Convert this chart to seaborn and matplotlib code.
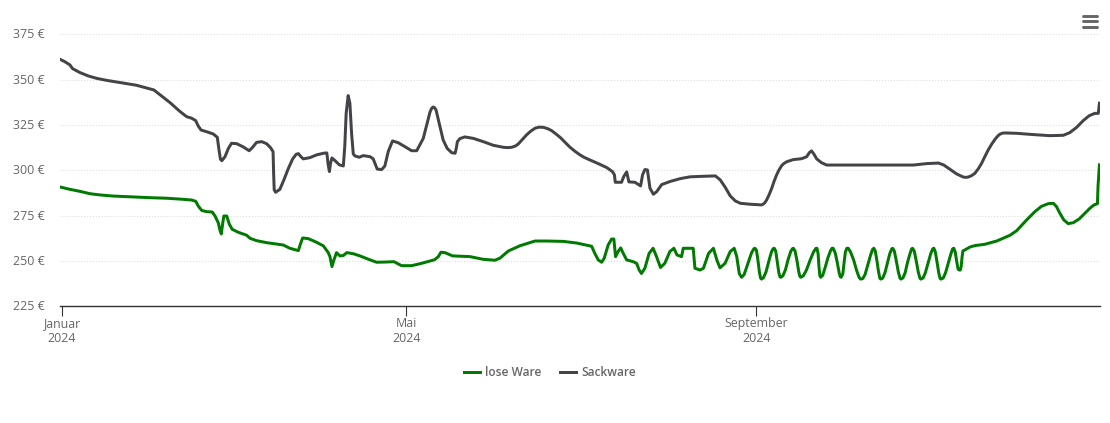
import matplotlib
matplotlib.use("Agg")
import matplotlib.pyplot as plt
from matplotlib.lines import Line2D
from matplotlib.transforms import ScaledTranslation
import pandas as pd
import seaborn as sns

# days counted from 1 Jan 2024, values in euro
sack_days = [-0.7, 1, 2.8, 3.7, 6.3, 9.3, 12.2, 15.7, 19.2, 22.7, 26.2, 29.8, 32.3, 34.4, 38, 41.5, 43.8, 45.6, 47, 47.9,
             48.9, 50.8, 53.2, 54.6, 55.2, 55.7, 56.2, 57.3, 58.5, 59.6, 61.4, 63.7, 65.8, 66.9, 68.4, 70.2, 71.9, 73.3, 74.2, 74.4,
             74.6, 75.1, 76.6, 78, 79.6, 81.1, 82.3, 83.1, 84, 84.8, 87.2, 89.5, 91.9, 93.1, 93.5, 94, 94.4, 94.9, 96, 97.5,
             98.9, 99.4, 99.9, 100.6, 101.2, 101.8, 102.4, 103, 104.5, 105.9, 108.3, 109.4, 110.1, 110.8, 112.4, 113.5, 114.7, 116.2, 118.2, 120.6,
             122.9, 124.7, 125.8, 127, 128.2, 129.4, 130, 130.5, 131, 131.5, 132.6, 134, 135.4, 137, 138.2, 138.6, 139, 139.9, 141.6, 144.6, 148.1, 151.6,
             155.1, 156.6, 158.1, 159.4, 160.4, 161.8, 163.3, 164.8, 166.3, 167.7, 169.2, 170.7, 172.1, 173.6, 175.1, 176.9, 178.6, 180.4, 182.1, 183.5, 185,
             188.5, 191.5, 193.5, 194.2, 194.5, 196.7, 197.5, 198.5, 199.3,
             201.4, 203.4, 204.1, 204.9, 205.8, 206.7, 207.9, 209.1, 210.8, 213.7, 217.3, 220.8, 225.5, 229.7, 231.4, 233.2, 234.9, 236.7, 238.5, 241.8,
             246, 246.9, 247.7, 248.6, 249.5, 250.3, 251.2, 252.1, 253, 253.9, 254.9, 257.1, 260, 261.8, 262.7, 263.5, 264.3, 265.3, 267, 268.8, 273.5, 285.2, 299.3, 304, 308.1,
             310, 312.1, 314.5, 316.8, 317.7, 318.6, 319.7, 320.9, 322.1, 323.3, 324.4, 325.6, 326.8, 328, 328.9, 329.7, 330.6, 331.5,
             335.6, 341.4, 347.3, 352, 354.3, 356.7, 359, 361.1, 363.1,
             364.3, 364.7]
sack_prices = [361.2, 359.9, 358.1, 356.1, 353.9, 352, 350.7, 349.6, 348.7, 347.8, 346.9, 345.4, 344.3, 341.7, 337.3, 332.4, 329.6, 328.7, 327.4, 324.4,
               322.2, 321.3, 320, 318.2, 311.2, 306.1, 305.3, 307.5, 312.1, 314.9, 314.7, 312.9, 310.8, 312.5, 315.4, 315.8, 314.7, 312.5, 310.3, 298.3,
               289.2, 287.9, 289.5, 294.7, 301.1, 306.3, 308.8, 309.2, 307.5, 306.3, 307, 308.5, 309.4, 309.6, 303.9, 299.3, 303.9, 306.8, 305.3, 303,
               302.4, 313, 331.4, 341.2, 337, 320.4, 309, 307.9, 307.2, 308.1, 307.5, 306.3, 303.5, 300.7, 300.4, 302.4, 310.4, 316.2, 315.2, 313,
               310.8, 310.8, 314, 317.6, 324.9, 332.3, 334.3, 334.9, 334.5, 333.2, 325.9, 316.7, 312.1, 309.7, 309.4, 312.1, 315.8, 317.5, 318.4, 317.6, 315.8, 313.8,
               312.7, 312.5, 312.7, 313.4, 314.5, 316.9, 319.5, 321.6, 323.2, 323.8, 323.7, 323, 321.9, 320.1, 318.2, 315.4, 312.7, 310.4, 308.5, 307.2, 306.1,
               303.7, 301.5, 299.3, 297.5, 293.4, 293.4, 296.6, 299.1, 293.6,
               293.4, 291.4, 297.5, 300.4, 300.2, 290.1, 286.8, 288.3, 292.1, 293.8, 295.4, 296.4, 296.7, 296.9, 294.7, 290.5, 285.9, 283.1, 281.8, 281.3,
               280.9, 281.8, 283.6, 286.6, 290.1, 293.8, 297.4, 300.3, 302.6, 303.9, 304.8, 305.9, 306.4, 307.5, 309.7, 310.7, 309, 306.3, 304.2, 302.9, 302.9, 302.9, 302.9, 303.7, 304,
               302.9, 300.6, 298, 296.3, 296.1, 296.3, 297, 298.3, 300.8, 303.9, 307.5, 311.2, 314.4, 317.1, 318.8, 319.9, 320.5, 320.6,
               320.4, 319.7, 319.1, 319.3, 320.8, 323.7, 327.4, 330.1, 331.4,
               331.4, 337]

lose_days = [-0.7, 2.8, 6.3, 9.8, 13.4, 18, 25.1, 30.9, 36.8, 42.6, 45.6, 47, 47.9, 49.1, 50.8, 52.8, 53.8, 55, 55.5, 56,
             56.5, 56.9, 57.9, 58.8, 59.8, 62, 64.9, 66.1, 68.4, 71.9, 77.8, 80.1, 83.1, 83.7, 84.6, 86.6, 89.5, 91.9, 93.6, 94.2,
             94.9, 95.6, 96.5, 97.7, 98.9, 100.1, 102.4, 104.7, 108.3, 110.6, 113.5, 116.7, 119.4, 122.9, 126.4, 131, 132.3, 133.2, 134.6, 137.3,
             143.4, 148.1, 152.2, 154, 156.9, 161, 166.3, 170.4, 176.2, 180.9, 186.2, 187.3, 188.5, 189.7, 190.6, 192, 193.2, 194, 194.6, 195.5,
             196.4, 197.3, 198.5, 200.8, 202, 202.9, 203.7, 204.9, 206.4, 207.8, 209, 210.4, 211.9, 213.7, 215.1, 216.2, 217.8, 218.4, 221.9, 222.5,
             224.3, 225.5, 227.3, 229, 230.2, 231.3, 233.1, 234.9, 236.3, 237.2, 238.1, 238.9,
             239.8, 241, 242.4, 243.2, 243.6, 244.1, 244.6, 245.2, 245.6, 245.9,
             246.6, 247.5, 248.5, 249.4, 250, 250.4, 250.9, 251.5, 252, 252.4, 252.7,
             253.4, 254.3, 255.3, 256.2, 256.8, 257.1, 257.7, 258.4, 259, 259.4, 259.7,
             260.6, 261.7, 263, 264.2, 265, 265.4, 265.8, 266.1, 266.4, 266.7,
             267.4, 268.2, 269.3, 270.2, 270.7, 271.1, 271.8, 272.5, 273.2, 273.6, 273.9,
             274.5, 275, 275.4, 275.9, 276.4, 277.2, 278.3, 279.3, 280.2, 280.7,
             281.5, 282.3, 283.3, 284.3, 285, 285.4, 285.9, 286.5, 287, 287.5, 287.8,
             288.5, 289.3, 290.2, 291, 291.7, 292, 292.6, 293.3, 294, 294.6, 294.9,
             295.6, 296.4, 297.2, 298.1, 298.7, 299, 299.6, 300.3, 301, 301.6, 301.9,
             302.7, 303.5, 304.5, 305.4, 306.1, 306.5, 307, 307.6, 308.2, 308.7, 309,
             309.8, 310.6, 311.6, 312.5, 313.1, 313.5, 314, 314.5, 315, 315.4, 315.8, 316.1, 316.4, 316.7,
             318, 319.2, 321, 324.4, 328.6, 333.3, 335.6, 339.1, 342, 344.3, 346.7, 348.5, 349.6, 350.8, 352.2, 353.7, 355.5, 357.6, 359.6, 361.3,
             362.8, 364, 364.2, 364.7]
lose_prices = [290.8, 289.5, 288.4, 287.1, 286.4, 285.8, 285.3, 284.9, 284.6, 284, 283.6, 282.9, 280.3, 277.9, 277.2, 277, 274.8, 270.8, 267.1, 264.9,
               270.8, 274.8, 274.8, 270.4, 267.5, 265.8, 264.2, 262.5, 261.2, 260.1, 258.8, 257, 255.7, 258.8, 262.7, 262.3, 260.3, 258.3, 254.6, 252.4,
               246.9, 250.6, 254.6, 252.8, 253, 254.6, 254, 252.8, 250.6, 249.3, 249.4, 249.6, 247.4, 247.4, 248.7, 250.7, 252.4, 254.8, 254.6, 252.8,
               252.4, 250.9, 250.4, 251.6, 255.5, 258.4, 261, 261, 260.8, 259.9, 258.1, 254.2, 250.6, 249.3, 251.5, 258.8, 262.1, 262.1, 252.4, 255.2,
               257.2, 254.2, 250.6, 249.6, 248.7, 245, 243.1, 246, 254.2, 257, 252.4, 246.4, 248.7, 255.2, 257, 253.3, 252.4, 257, 257, 246,
               245, 246, 254.2, 257, 250.6, 246.2, 248.7, 255.2, 257, 252.4, 243, 241,
               242.5, 248, 254.5, 256.7, 257, 256, 251, 243.5, 240.5, 240,
               240.8, 244, 250, 255, 256.8, 257, 255.5, 249, 243.5, 241.2, 241,
               241.8, 245, 251, 255.3, 256.8, 257, 255.5, 250, 244, 241.5, 241,
               241.8, 245, 250.5, 255, 256.9, 257, 254, 247, 242, 241,
               242, 246, 252, 255.8, 257, 257, 254.5, 249.5, 243.5, 241.3, 241,
               243, 250, 255, 257, 257, 255, 250.5, 245, 241, 240,
               240.3, 242.5, 248, 253.5, 256.5, 257, 255.5, 250, 244.5, 240.5, 240,
               240.5, 243.5, 249, 254, 256.7, 257, 255.5, 250, 244, 240.5, 240,
               240.6, 243.5, 249, 254, 256.7, 257, 255.5, 250, 244, 240.5, 240,
               240.6, 243.5, 249, 254, 256.7, 257, 255, 249.5, 243.5, 240.3, 240,
               240.6, 243.5, 249, 254, 256.7, 257, 255, 250, 245.5, 245, 245, 247, 252, 255.5,
               256.6, 257.7, 258.5, 259.2, 261, 264.2, 266.7, 272.6, 277.2, 280.1, 281.6, 281.8, 280, 276.3, 272.6, 270.6, 271.1, 273.2, 276.3, 279,
               280.9, 281.6, 291, 303]

y_ticks = [225, 250, 275, 300, 325, 350, 375]
x_ticks = ["2024-01-01", "2024-05-01", "2024-09-01"]
x_labels = ["Januar\n2024", "Mai\n2024", "September\n2024"]

W, H = 1110, 423
plt.rcParams["font.family"] = "Open Sans"
fig = plt.figure(figsize=(W / 100, H / 100), dpi=100)
ax = fig.add_axes([60 / W, 1 - 306.3 / H, 1040 / W, 272 / H])

start = pd.Timestamp("2024-01-01")
sns.lineplot(x=start + pd.to_timedelta(lose_days, unit="D"), y=lose_prices, color="#007a00", linewidth=2.15,
             label="lose Ware", ax=ax, estimator=None, sort=False)
sns.lineplot(x=start + pd.to_timedelta(sack_days, unit="D"), y=sack_prices, color="#434348", linewidth=2.15,
             label="Sackware", ax=ax, estimator=None, sort=False)
for line in ax.get_lines():
    line.set_solid_joinstyle("round")

ax.set_xlim(start - pd.Timedelta(days=0.7), start + pd.Timedelta(days=364.9))
ax.set_ylim(225, 375)
ax.set_ylabel("")
ax.set_xlabel("")

for s in ["top", "left", "right"]:
    ax.spines[s].set_visible(False)
ax.spines["bottom"].set_color("#333333")
ax.spines["bottom"].set_linewidth(1)

ax.set_yticks(y_ticks, [f"{v} €" for v in y_ticks])
ax.grid(axis="y", color="#dddddd", linestyle=":", linewidth=0.8)
ax.set_axisbelow(True)
ax.tick_params(axis="y", length=0, pad=11, labelsize=8.9, labelcolor="#666666")
ax.set_xticks(pd.to_datetime(x_ticks), x_labels)
ax.tick_params(axis="x", length=7, width=0.8, color="#333333", pad=0.5, labelsize=8.9, labelcolor="#666666")
up = ScaledTranslation(0, 1 / 100, fig.dpi_scale_trans)
for lab in ax.get_yticklabels():
    lab.set_transform(lab.get_transform() + up)

leg = ax.legend(loc="center", bbox_to_anchor=(550 / W, 1 - 372.5 / H), bbox_transform=fig.transFigure, ncol=2,
                frameon=False, fontsize=8.6, handlelength=1.35, handletextpad=0.45, columnspacing=1.55)
for t in leg.get_texts():
    t.set_color("#666666")
    t.set_fontweight("semibold")

# menu button, top right
for y in [16, 21.5, 26.7]:
    fig.add_artist(Line2D([1082.5 / W, 1096.5 / W], [1 - y / H, 1 - y / H], color="#666666", linewidth=2.1,
                          solid_capstyle="round"))

fig.savefig("out.png", dpi=100)
